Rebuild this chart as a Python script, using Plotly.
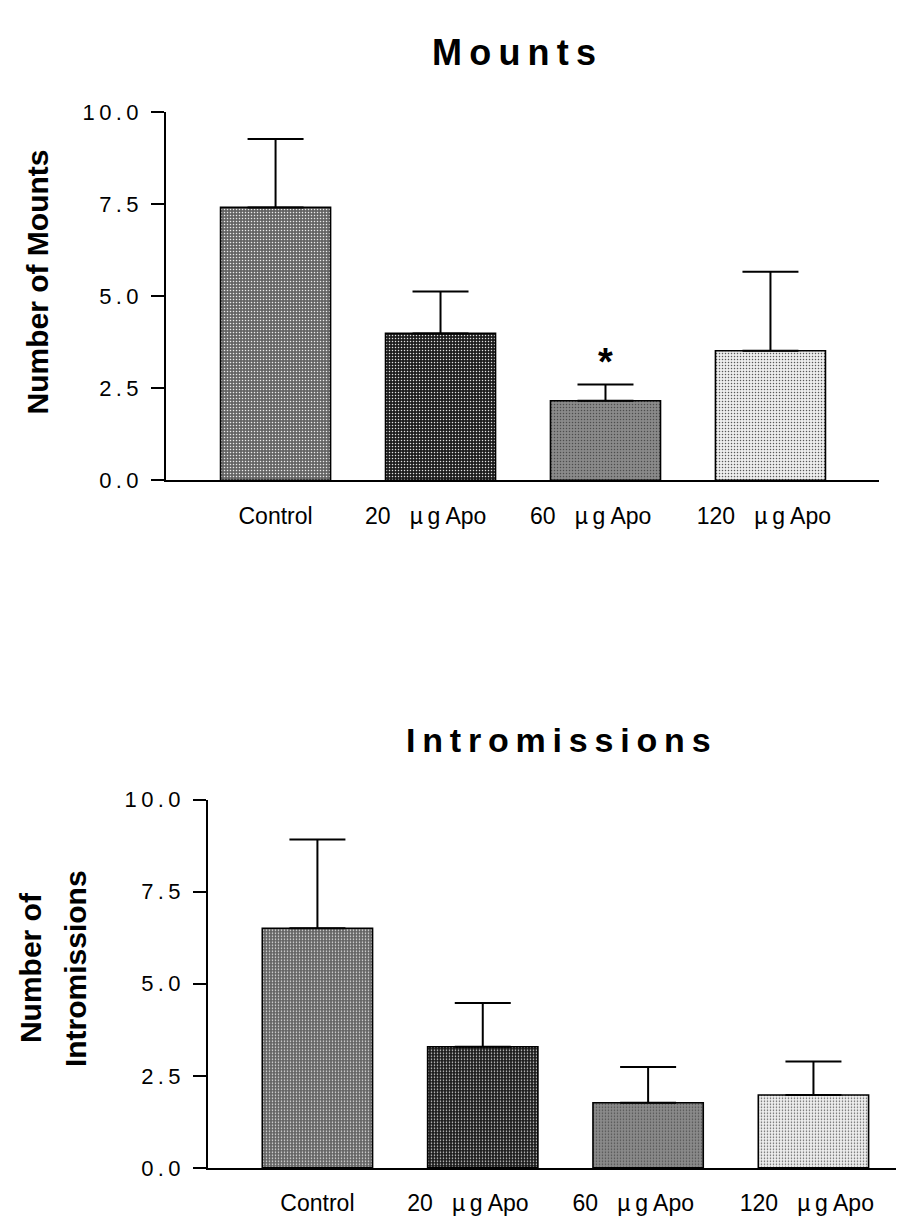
import plotly.graph_objects as go

# ---- data ----
groups = ["Control", "20 µg Apo", "60 µg Apo", "120 µg Apo"]
tick_labels = ["Control", "20\u00a0\u00a0 µ\u2009g Apo", "60\u00a0\u00a0 µ\u2009g Apo", "120\u00a0\u00a0 µ\u2009g Apo"]
mounts_mean = [7.41, 3.99, 2.16, 3.52]
mounts_sem = [1.86, 1.14, 0.44, 2.14]
intro_mean = [6.51, 3.29, 1.77, 1.98]
intro_sem = [2.41, 1.19, 0.97, 0.91]
y_ticks = [0.0, 2.5, 5.0, 7.5, 10.0]
y_tick_text = ["\u2009".join(f"{v:.1f}") for v in y_ticks]
significant = [False, False, True, False]

# ---- styles ----
bar_colors = ["#646464", "#1c1c1c", "#8a8a8a", "#eeeeee"]
pat_colors = ["#8e8e8e", "#404040", "#b0b0b0", "#b4b4b4"]
label_shift = [0.0, -0.09, -0.09, -0.04]
FONT = "Liberation Sans, Arial, sans-serif"

xpos = list(range(len(groups)))

fig = go.Figure()

def add_bars(mean, sem, xa, ya):
    fig.add_trace(go.Bar(
        x=xpos, y=mean, xaxis=xa, yaxis=ya, width=0.667,
        marker=dict(color=bar_colors, line=dict(color="black", width=1.6),
                    pattern=dict(shape=".", size=3, solidity=0.2, fgcolor=pat_colors,
                                 fgopacity=0.9)),
        error_y=dict(type="data", symmetric=False, array=sem, arrayminus=[0] * len(sem),
                     color="black", thickness=2, width=28),
        showlegend=False,
    ))

add_bars(mounts_mean, mounts_sem, "x", "y")
add_bars(intro_mean, intro_sem, "x2", "y2")

tickv = [p + s for p, s in zip(xpos, label_shift)]
xcommon = dict(showline=True, linecolor="black", linewidth=2, ticks="", showgrid=False,
               zeroline=False, tickmode="array", tickvals=tickv, ticktext=tick_labels,
               tickfont=dict(family=FONT, size=23, color="black"), ticklabelstandoff=14)
ycommon = dict(showline=True, linecolor="black", linewidth=2, ticks="outside", ticklen=13,
               tickwidth=1.5, tickcolor="black", showgrid=False, zeroline=False,
               range=[0, 10], tickmode="array", tickvals=y_ticks, ticktext=y_tick_text,
               tickfont=dict(family=FONT, size=22, color="black"), ticklabelstandoff=8)

fig.update_layout(
    width=904, height=1217, margin=dict(l=0, r=0, t=0, b=0),
    paper_bgcolor="white", plot_bgcolor="white",
    xaxis=dict(domain=[0.1748, 0.9635], range=[-0.664, 3.658], anchor="y", **xcommon),
    yaxis=dict(domain=[0.6138, 0.9228], anchor="x", **ycommon),
    xaxis2=dict(domain=[0.2212, 1.0], range=[-0.662, 3.596], anchor="y2", **xcommon),
    yaxis2=dict(domain=[0.0370, 0.3459], anchor="x2", **ycommon),
)

def spaced(s):
    return "\u2009".join(s)

ann = [
    dict(text="<b>" + spaced("Mounts") + "</b>", x=506 / 904, y=1 - 33 / 1217,
         xref="paper", yref="paper", showarrow=False, xanchor="center", yanchor="middle",
         font=dict(family=FONT, size=36, color="black")),
    dict(text="<b>" + spaced("Intromissions") + "</b>", x=550 / 904, y=1 - 735 / 1217,
         xref="paper", yref="paper", showarrow=False, xanchor="center", yanchor="middle",
         font=dict(family=FONT, size=34, color="black")),
    dict(text="<b>Number of Mounts</b>", x=29 / 904, y=1 - 268 / 1217, textangle=-90,
         xref="paper", yref="paper", showarrow=False, xanchor="center", yanchor="middle",
         font=dict(family=FONT, size=30, color="black")),
    dict(text="<b>Number of</b>", x=22 / 904, y=1 - 968 / 1217, textangle=-90,
         xref="paper", yref="paper", showarrow=False, xanchor="center", yanchor="middle",
         font=dict(family=FONT, size=30, color="black")),
    dict(text="<b>Intromissions</b>", x=67 / 904, y=1 - 969 / 1217, textangle=-90,
         xref="paper", yref="paper", showarrow=False, xanchor="center", yanchor="middle",
         font=dict(family=FONT, size=30, color="black")),
]
for i, sig in enumerate(significant):
    if sig:
        ann.append(dict(text="<b>*</b>", x=xpos[i], y=mounts_mean[i] + mounts_sem[i],
                        xref="x", yref="y", showarrow=False, xanchor="center",
                        yanchor="bottom", yshift=0,
                        font=dict(family=FONT, size=38, color="black")))
fig.update_layout(annotations=ann)

fig.write_html("out.html")
